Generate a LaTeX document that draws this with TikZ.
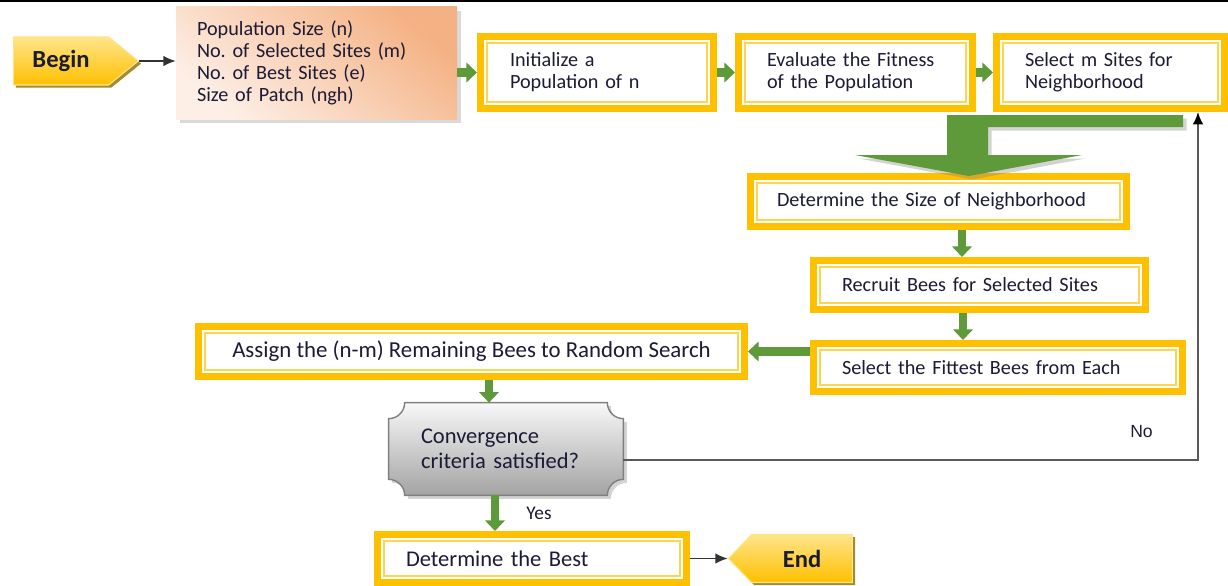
\documentclass[tikz,border=0pt]{standalone}
\usepackage{fontspec}
\setmainfont{Carlito}
\newfontfamily\arialfont{Liberation Sans}
\frenchspacing
\usetikzlibrary{positioning,calc,shapes.symbols,shadows,arrows.meta,backgrounds}

\definecolor{boxyellow}{HTML}{FFC000}
\definecolor{lineyellow}{HTML}{FFD54F}
\definecolor{termlight}{HTML}{FFE58A}
\definecolor{termshadow}{HTML}{8C6D00}
\definecolor{arrowgreen}{HTML}{5E9A3A}
\definecolor{peach}{HTML}{F4B183}
\definecolor{peachlight}{HTML}{FDEFE6}
\definecolor{convtop}{HTML}{F8F8F8}
\definecolor{convbottom}{HTML}{A3A3A3}
\definecolor{convedge}{HTML}{7F7F7F}
\definecolor{textblue}{HTML}{1B1B36}

\begin{document}
\begin{tikzpicture}
  [>={Latex[length=7pt,width=6pt]},
   txt/.style={text=textblue,font=\fontsize{11.5}{12.5}\selectfont},
   bigtxt/.style={text=textblue,font=\fontsize{12.8}{14.2}\selectfont},
   stepbox/.style={draw=boxyellow,line width=4pt,fill=white,align=left,
     inner ysep=2pt,minimum height=0.98cm,
     path picture={\draw[lineyellow,line width=0.9pt]
       ([shift={(3.6pt,3.6pt)}]path picture bounding box.south west) rectangle
       ([shift={(-3.6pt,-3.6pt)}]path picture bounding box.north east);}},
   terminal/.style={signal,minimum height=0.96cm,
     shading=axis,top color=termlight,bottom color=boxyellow,draw=termlight,line width=0.6pt,
     font=\fontsize{14}{16}\selectfont\bfseries,text=textblue,
     drop shadow={shadow xshift=1.5pt,shadow yshift=-1.5pt,fill=termshadow,opacity=0.8}},
   flowarrow/.style={draw=arrowgreen,line width=5pt,-{Triangle[width=11pt,length=6pt]}},
   thinarrow/.style={draw=black!80,line width=0.8pt,->},
   noline/.style={draw=black!65,line width=1pt,-{Latex[length=7pt,width=6pt,black]}}]

  \useasboundingbox (0,0) rectangle (24.56,-11.72);
  \draw[line width=1.2pt] (0,-0.02) -- (24.56,-0.02);

  \node[terminal,signal to=east,signal pointer angle=78,minimum width=2.50cm] (begin) at (1.22,-1.22) {Begin};
  \node[txt,align=left,text width=4.78cm,inner xsep=0.42cm,minimum height=2.24cm,
        shading=axis,top color=peach,bottom color=peachlight,shading angle=-40,
        drop shadow={shadow xshift=2.5pt,shadow yshift=-2.5pt,opacity=0.3}] (params) at (6.33,-1.26)
        {Population Size (n)\\No. of Selected Sites (m)\\No. of Best Sites (e)\\Size of Patch (ngh)};

  \node[stepbox,txt,minimum height=1.44cm,text width=3.48cm,inner xsep=0.59cm] (init) at (11.94,-1.45) {Initialize a\\Population of n};
  \node[stepbox,txt,minimum height=1.44cm,text width=3.54cm,inner xsep=0.57cm] (eval) at (17.11,-1.45) {Evaluate the Fitness\\of the Population};
  \node[stepbox,txt,minimum height=1.44cm,text width=3.42cm,inner xsep=0.57cm] (selm) at (22.21,-1.45) {Select m Sites for\\Neighborhood};

  \node[stepbox,txt,text width=6.46cm,inner xsep=0.53cm,minimum height=1.00cm] (detsize) at (18.77,-4.03) {Determine the Size of Neighborhood};
  \node[stepbox,txt,text width=5.50cm,inner xsep=0.57cm] (recruit) at (19.59,-5.70) {Recruit Bees for Selected Sites};
  \node[stepbox,txt,text width=6.24cm,inner xsep=0.57cm,minimum height=0.96cm] (fittest) at (19.96,-7.35) {Select the Fittest Bees from Each};
  \node[stepbox,bigtxt,font=\fontsize{13}{14}\selectfont,minimum width=10.92cm,minimum height=1.00cm] (assign) at (9.43,-7.03) {Assign the (n-m) Remaining Bees to Random Search};

  \node[bigtxt,align=left,text width=3.40cm,inner xsep=0.64cm,minimum height=1.84cm] (conv) at (10.12,-8.98) {Convergence\\criteria satisfied?};
  \begin{scope}[on background layer]
    \shade[top color=convtop,bottom color=convbottom,draw=convedge,line width=0.8pt,
      drop shadow={shadow xshift=2pt,shadow yshift=-2pt,opacity=0.35}]
      ($(conv.north west)+(0.32,0)$) -- ($(conv.north east)+(-0.32,0)$)
      arc[start angle=180,end angle=270,radius=0.32]
      -- ($(conv.south east)+(0,0.32)$)
      arc[start angle=90,end angle=180,radius=0.32]
      -- ($(conv.south west)+(0.32,0)$)
      arc[start angle=0,end angle=90,radius=0.32]
      -- ($(conv.north west)+(0,-0.32)$)
      arc[start angle=270,end angle=360,radius=0.32] -- cycle;
  \end{scope}

  \node[stepbox,bigtxt,text width=5.04cm,inner xsep=0.57cm,minimum height=0.96cm] (best) at (10.64,-11.17) {Determine the Best};
  \node[terminal,signal to=west,signal pointer angle=92,minimum width=2.48cm] (end) at (16.04,-11.17) {End};

  \node[txt,font=\fontsize{11}{12}\selectfont] (yes) at (10.78,-10.26) {Yes};
  \node[text=textblue,font=\arialfont\fontsize{10}{12}\selectfont] (no) at (22.83,-8.64) {No};

  \draw[thinarrow] (begin.east) -- (begin.east -| params.west);
  \draw[flowarrow] (init.west -| params.east) -- (init.west);
  \draw[flowarrow] (init) -- (eval);
  \draw[flowarrow] (eval) -- (selm);

  \fill[arrowgreen,drop shadow={shadow xshift=2pt,shadow yshift=-2pt,opacity=0.35}]
    (18.94,-2.30) -- (23.66,-2.30) -- (23.66,-2.54) -- (19.76,-2.54) -- (19.76,-3.10)
    -- (21.64,-3.10) -- (19.38,-3.52) -- (17.10,-3.10) -- (18.94,-3.10) -- cycle;

  \draw[flowarrow] ([xshift=0.47cm]detsize.south) -- ([xshift=0.47cm]detsize.south |- recruit.north);
  \draw[flowarrow] ([xshift=-0.33cm]recruit.south) -- ([xshift=-0.33cm]recruit.south |- fittest.north);
  \draw[flowarrow] (fittest.west |- assign.east) -- (assign.east);
  \draw[flowarrow] ([xshift=-0.34cm]conv.north |- assign.south) -- ([xshift=-0.34cm]conv.north);
  \draw[flowarrow] ([xshift=-0.22cm]conv.south) -- ([xshift=-0.22cm]conv.south |- best.north);
  \draw[thinarrow] (best.east) -- (end.west);
  \draw[noline] ([yshift=-0.22cm]conv.east) -| ([xshift=1.75cm]selm.south);
\end{tikzpicture}
\end{document}
